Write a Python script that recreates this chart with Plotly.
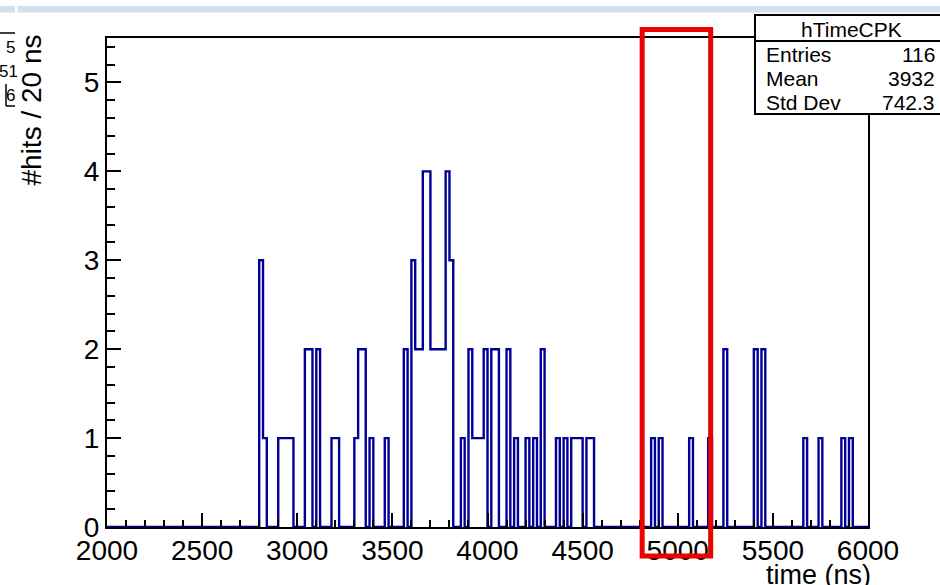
import numpy as np
import plotly.graph_objects as go

# ---------------- data ----------------
x_min, x_max, bin_width = 2000, 6000, 20
bin_lows = [2800, 2820, 2900, 2920, 2940, 2960, 3040, 3060, 3100, 3180, 3200,
            3300, 3320, 3340, 3380, 3460, 3560, 3600, 3620, 3640, 3660, 3680,
            3700, 3720, 3740, 3760, 3780, 3800, 3860, 3900, 3920, 3940, 3960,
            3980, 4020, 4040, 4100, 4140, 4200, 4240, 4280, 4360, 4400, 4440,
            4460, 4480, 4520, 4540, 4860, 4900, 5060, 5160, 5240, 5400, 5440,
            5660, 5740, 5860, 5900]
counts = [3, 1, 1, 1, 1, 1, 2, 2, 2, 1, 1,
          1, 2, 2, 1, 1, 2, 3, 2, 2, 4, 4,
          2, 2, 2, 2, 4, 3, 1, 2, 1, 1, 1,
          2, 2, 2, 2, 1, 1, 1, 2, 1, 1, 1,
          1, 1, 1, 1, 1, 1, 1, 1, 2, 2, 2,
          1, 1, 1, 1]
x_tick_vals = [2000, 2500, 3000, 3500, 4000, 4500, 5000, 5500, 6000]
x_tick_text = ["2000", "2500", "3000", "3500", "4000", "4500", "5000", "5500", "6000"]
y_tick_vals = [0, 1, 2, 3, 4, 5]
y_tick_text = ["0", "1", "2", "3", "4", "5"]
hist_name = "hTimeCPK"
stat_labels = ["Entries", "Mean", "Std Dev"]
stat_values = ["116", "3932", "742.3"]
x_title = "time (ns)"
y_title = "#hits / 20 ns"
highlight_range = [4813, 5173]   # red box around the 5000 ns region

# ---------------- build step histogram ----------------
edges = np.arange(x_min, x_max + bin_width, bin_width)
full = np.zeros(len(edges) - 1)
for lo, c in zip(bin_lows, counts):
    full[(lo - x_min) // bin_width] = c
y_step = np.append(full, full[-1])

# ---------------- layout geometry ----------------
W, H = 940, 585
L, R, T, B = 107, 72, 38, 58
pw, ph = W - L - R, H - T - B


def px_x(px):
    return (px - L) / pw


def px_y(py):
    return (H - B - py) / ph


FONT = "Liberation Sans, Arial, sans-serif"

fig = go.Figure()
fig.add_trace(go.Scatter(
    x=edges, y=y_step, mode="lines", line_shape="hv",
    line=dict(color="#000099", width=2.4), hoverinfo="skip", showlegend=False,
))

axis_common = dict(
    showline=True, linecolor="black", linewidth=2, mirror=True,
    ticks="inside", tickcolor="black", tickwidth=1.5,
    showgrid=False, zeroline=False,
    tickfont=dict(family=FONT, size=28, color="black"),
)

fig.update_xaxes(
    range=[x_min, x_max], tickmode="array", tickvals=x_tick_vals,
    ticktext=x_tick_text, ticklen=14, ticklabelstandoff=-3,
    minor=dict(dtick=100, ticklen=7, ticks="inside", tickcolor="black", tickwidth=1.5),
    **axis_common,
)
fig.update_yaxes(
    range=[0, 5.5], tickmode="array", tickvals=y_tick_vals,
    ticktext=y_tick_text, ticklen=14,
    minor=dict(dtick=0.2, ticklen=8, ticks="inside", tickcolor="black", tickwidth=1.5),
    **axis_common,
)

shapes = []
# light band at very top (page artifact)
shapes.append(dict(type="rect", xref="paper", yref="paper",
                   x0=px_x(-2), x1=px_x(15), y0=px_y(12.5), y1=px_y(6),
                   fillcolor="#d2e1f0", line=dict(width=0), layer="above"))
shapes.append(dict(type="rect", xref="paper", yref="paper",
                   x0=px_x(17.5), x1=px_x(945), y0=px_y(12.5), y1=px_y(6),
                   fillcolor="#d2e1f0", line=dict(width=0), layer="above"))
# stats box
shapes.append(dict(type="rect", xref="paper", yref="paper",
                   x0=px_x(755), x1=px_x(947), y0=px_y(114), y1=px_y(15),
                   fillcolor="white", line=dict(color="black", width=2), layer="above"))
shapes.append(dict(type="line", xref="paper", yref="paper",
                   x0=px_x(755), x1=px_x(947), y0=px_y(41), y1=px_y(41),
                   line=dict(color="black", width=2), layer="above"))
# red highlight box
shapes.append(dict(type="rect", xref="paper", yref="paper",
                   x0=(highlight_range[0] - x_min) / (x_max - x_min),
                   x1=(highlight_range[1] - x_min) / (x_max - x_min),
                   y0=px_y(556), y1=px_y(29.5),
                   fillcolor="rgba(0,0,0,0)", line=dict(color="#ee0000", width=5),
                   layer="above"))
# left cut-off bracket artifacts
shapes.append(dict(type="line", xref="paper", yref="paper",
                   x0=px_x(0), x1=px_x(15), y0=px_y(33), y1=px_y(33),
                   line=dict(color="black", width=1.5), layer="above"))
shapes.append(dict(type="line", xref="paper", yref="paper",
                   x0=px_x(6), x1=px_x(6), y0=px_y(84), y1=px_y(106),
                   line=dict(color="black", width=1.5), layer="above"))
shapes.append(dict(type="line", xref="paper", yref="paper",
                   x0=px_x(6), x1=px_x(15), y0=px_y(106), y1=px_y(106),
                   line=dict(color="black", width=1.5), layer="above"))

annotations = []
# axis titles
annotations.append(dict(text=x_title, xref="paper", yref="paper",
                        x=px_x(873), y=px_y(575), xanchor="right", yanchor="middle",
                        showarrow=False, font=dict(family=FONT, size=27, color="black")))
annotations.append(dict(text=y_title, xref="paper", yref="paper",
                        x=px_x(31), y=px_y(33), xanchor="center", yanchor="top",
                        textangle=-90, showarrow=False,
                        font=dict(family=FONT, size=28, color="black")))
# stats box text
annotations.append(dict(text=hist_name, xref="paper", yref="paper",
                        x=px_x(851), y=px_y(29), xanchor="center", yanchor="middle",
                        showarrow=False, font=dict(family=FONT, size=21, color="black")))
row_y = [54, 78, 102]
for lab, val, ry in zip(stat_labels, stat_values, row_y):
    annotations.append(dict(text=lab, xref="paper", yref="paper",
                            x=px_x(764), y=px_y(ry), xanchor="left", yanchor="middle",
                            showarrow=False, font=dict(family=FONT, size=21, color="black")))
    annotations.append(dict(text=val, xref="paper", yref="paper",
                            x=px_x(937), y=px_y(ry), xanchor="right", yanchor="middle",
                            showarrow=False, font=dict(family=FONT, size=21, color="black")))
# left cut-off digits
for t, ty, tx in [("5", 47, 10), ("51", 71, 8), ("6", 95, 10)]:
    annotations.append(dict(text=t, xref="paper", yref="paper",
                            x=px_x(tx), y=px_y(ty), xanchor="center", yanchor="middle",
                            showarrow=False, font=dict(family=FONT, size=17, color="black")))

fig.update_layout(
    width=W, height=H,
    margin=dict(l=L, r=R, t=T, b=B, pad=0),
    paper_bgcolor="white", plot_bgcolor="white",
    shapes=shapes, annotations=annotations, showlegend=False,
)

fig.write_html("out.html", config={"displayModeBar": False},
               post_script="document.body.style.margin='0';document.body.style.overflow='hidden';")
